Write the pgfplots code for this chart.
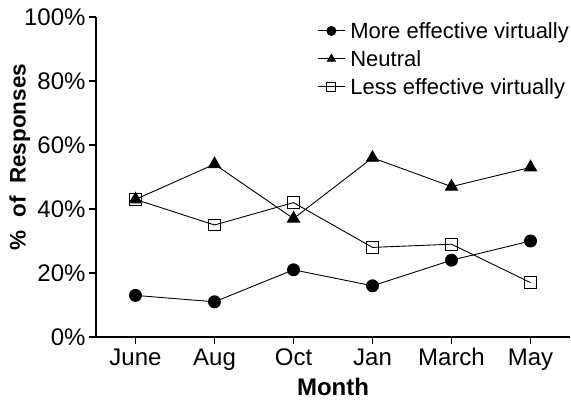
\documentclass[border=0pt]{standalone}
\usepackage{pgfplots}
\pgfplotsset{compat=1.18}
\usepackage{fontspec}
\setmainfont{Liberation Sans}
\begin{document}
\begin{tikzpicture}
\begin{axis}[
  name=ax,
  scale only axis,
  width=474pt, height=320pt,
  xmin=-0.5, xmax=5.5, ymin=0, ymax=100,
  axis x line*=bottom, axis y line*=left,
  axis line style={line width=1.2pt, -},
  tick align=outside,
  major tick length=7pt,
  tick style={line width=1.2pt, black},
  xtick={0,1,2,3,4,5},
  xticklabels={June,Aug,Oct,Jan,March,May},
  ytick={0,20,40,60,80,100},
  yticklabel={\pgfmathprintnumber{\tick}\%},
  /pgf/number format/assume math mode=true,
  ticklabel style={font=\fontsize{24}{28}\selectfont},
  xticklabel style={yshift=-1pt},
  xlabel={\textbf{Month}},
  ylabel={\textbf{\%~ of~ Responses}},
  xlabel style={font=\fontsize{24}{28}\selectfont, yshift=-1pt},
  ylabel style={font=\fontsize{22.5}{26}\selectfont, at={(axis description cs:-0.161,0.5625)}, anchor=center},
  legend style={at={(axis description cs:1,1)}, anchor=north east, draw=none, fill=none,
    font=\fontsize{22}{26}\selectfont, row sep=8.5pt, column sep=4pt, xshift=2pt, yshift=-2pt,
    inner sep=2pt, nodes={inner sep=1pt}},
  legend cell align=left,
  legend image code/.code={\draw[#1, mark size=4.5pt, mark repeat=2, mark phase=2] plot coordinates {(0pt,0pt)(13.5pt,0pt)(27pt,0pt)};},
  every axis plot/.append style={line width=0.9pt, black},
]
\addplot[mark=*, mark size=6pt, mark options={solid,fill=black}] coordinates {(0,13)(1,11)(2,21)(3,16)(4,24)(5,30)};
\addlegendentry{More effective virtually}
\addplot[mark=triangle*, mark size=7pt, mark options={solid,fill=black}] coordinates {(0,43)(1,54)(2,37)(3,56)(4,47)(5,53)};
\addlegendentry{Neutral}
\addplot[mark=square, mark size=5.8pt, mark options={solid,fill=white}] coordinates {(0,43)(1,35)(2,42)(3,28)(4,29)(5,17)};
\addlegendentry{Less effective virtually}
\end{axis}
\pgfresetboundingbox
\useasboundingbox ([xshift=-96pt,yshift=-64pt]ax.south west) rectangle ([xshift=1pt,yshift=17pt]ax.north east);
\end{tikzpicture}
\end{document}
